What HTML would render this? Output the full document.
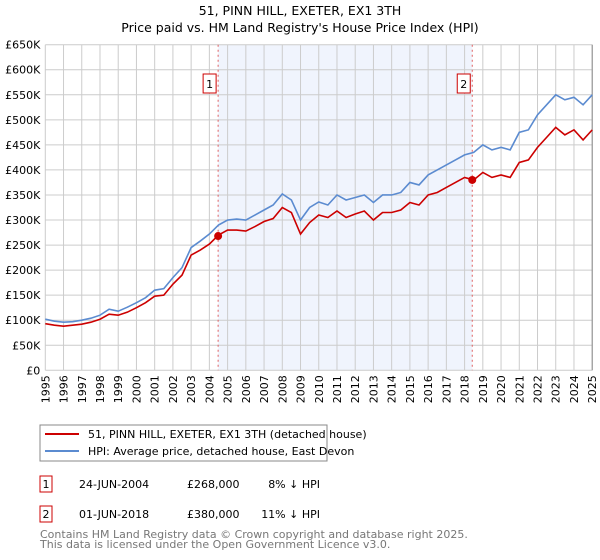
<!DOCTYPE html>
<html><head><meta charset="utf-8"><style>
body{margin:0;width:600px;height:560px;background:#fff;font-family:"DejaVu Sans","Liberation Sans",sans-serif;overflow:hidden}
svg{position:absolute;left:0;top:0}
</style></head><body>
<svg width="600" height="560" font-family="DejaVu Sans, Liberation Sans, sans-serif">
<text x="300" y="15" text-anchor="middle" font-size="12.5">51, PINN HILL, EXETER, EX1 3TH</text>
<text x="300" y="32" text-anchor="middle" font-size="12.5">Price paid vs. HM Land Registry's House Price Index (HPI)</text>
<g id="plot"></g>
<g>
<rect x="40" y="425" width="287" height="36" fill="#fff" stroke="#888"/>
<line x1="45" y1="434" x2="79" y2="434" stroke="#cc0000" stroke-width="2"/>
<text x="88" y="438" font-size="11">51, PINN HILL, EXETER, EX1 3TH (detached house)</text>
<line x1="45" y1="451" x2="79" y2="451" stroke="#5b8bd0" stroke-width="2"/>
<text x="88" y="455" font-size="11">HPI: Average price, detached house, East Devon</text>
</g>
<g font-size="11">
<rect x="40" y="476" width="12" height="16" fill="#fff" stroke="#cc0000"/><text x="46" y="488" text-anchor="middle">1</text>
<text x="79" y="488">24-JUN-2004</text><text x="187" y="488">£268,000</text><text x="320" y="488" text-anchor="end">8% ↓ HPI</text>
<rect x="40" y="506" width="12" height="16" fill="#fff" stroke="#cc0000"/><text x="46" y="518" text-anchor="middle">2</text>
<text x="79" y="518">01-JUN-2018</text><text x="187" y="518">£380,000</text><text x="320" y="518" text-anchor="end">11% ↓ HPI</text>
</g>
<text x="40" y="538" font-size="11" fill="#777">Contains HM Land Registry data © Crown copyright and database right 2025.</text>
<text x="40" y="548" font-size="11" fill="#777">This data is licensed under the Open Government Licence v3.0.</text>
</svg>
<script>
const years=[1995,1995.5,1996,1996.5,1997,1997.5,1998,1998.5,1999,1999.5,2000,2000.5,2001,2001.5,2002,2002.5,2003,2003.5,2004,2004.5,2005,2005.5,2006,2006.5,2007,2007.5,2008,2008.5,2009,2009.5,2010,2010.5,2011,2011.5,2012,2012.5,2013,2013.5,2014,2014.5,2015,2015.5,2016,2016.5,2017,2017.5,2018,2018.5,2019,2019.5,2020,2020.5,2021,2021.5,2022,2022.5,2023,2023.5,2024,2024.5,2025];
const hpi=[102,98,96,97,100,104,110,122,118,126,135,145,160,163,185,205,245,258,272,290,300,302,300,310,320,330,352,340,300,325,336,330,350,340,345,350,335,350,350,355,375,370,390,400,410,420,430,435,450,440,445,440,475,480,510,530,550,540,545,530,550];
const price=[93,90,88,90,92,96,102,112,110,116,125,135,148,150,172,190,230,240,252,270,280,280,278,287,297,303,325,315,272,295,310,305,318,305,312,318,300,315,315,320,335,330,350,355,365,375,385,380,395,385,390,385,415,420,445,465,485,470,480,460,480];
const yTicks=[0,50,100,150,200,250,300,350,400,450,500,550,600,650];
const sales=[{t:2004.48,v:268,label:"1"},{t:2018.42,v:380,label:"2"}];
const L=45.3,R=592.2,T=44.7,B=370.3;
const xs=t=>L+(t-1995)/30*(R-L);
const ys=v=>B-v/650*(B-T);
const NS="http://www.w3.org/2000/svg";
const g=document.getElementById('plot');
function mk(tag,a,parent){const e=document.createElementNS(NS,tag);for(const k in a)e.setAttribute(k,a[k]);(parent||g).appendChild(e);return e;}
let sh=mk('rect',{x:xs(sales[0].t),y:T,width:xs(sales[1].t)-xs(sales[0].t),height:B-T,fill:'#f0f4fd'});


for(const v of yTicks){
 const l=mk('line',{x1:L,x2:R,y1:ys(v),y2:ys(v),stroke:'#ccc'});
 
 
 const tx=mk('text',{x:L-5,y:ys(v)+4,'text-anchor':'end','font-size':'11'});
 tx.textContent=v===0?'£0':'£'+v+'K';
 
 
}
for(let yr=1995;yr<=2025;yr++){
 const l=mk('line',{x1:xs(yr),x2:xs(yr),y1:T,y2:B,stroke:'#ccc'});
 
 
 const tx=mk('text',{transform:`translate(${xs(yr)+4},${B+5}) rotate(-90)`,'text-anchor':'end','font-size':'11'});
 tx.textContent=yr;
 
 
}
mk('line',{x1:R,x2:R,y1:T,y2:B,stroke:'#888'});
for(const s of sales){
 const l=mk('line',{x1:xs(s.t),x2:xs(s.t),y1:T,y2:B,stroke:'#e06060','stroke-dasharray':'2,3'});
 
 
 const bx=mk('rect',{x:xs(s.t)-15,y:74,width:13,height:19,fill:'#fff',stroke:'#cc0000'});
 
 
 const tx=mk('text',{x:xs(s.t)-8.5,y:88,'text-anchor':'middle','font-size':'11'});
 tx.textContent=s.label;
 
 
}
function line(arr,color,name){
 const p=mk('polyline',{points:arr.map((v,i)=>xs(years[i])+','+ys(v)).join(' '),fill:'none',stroke:color,'stroke-width':'1.6'});
 
 
}
line(hpi,'#5b8bd0','hpi-line');
line(price,'#cc0000','price-paid-line');
for(const s of sales){
 const c=mk('circle',{cx:xs(s.t),cy:ys(s.v),r:4,fill:'#cc0000'});
 
 
}
</script>
</body></html>
